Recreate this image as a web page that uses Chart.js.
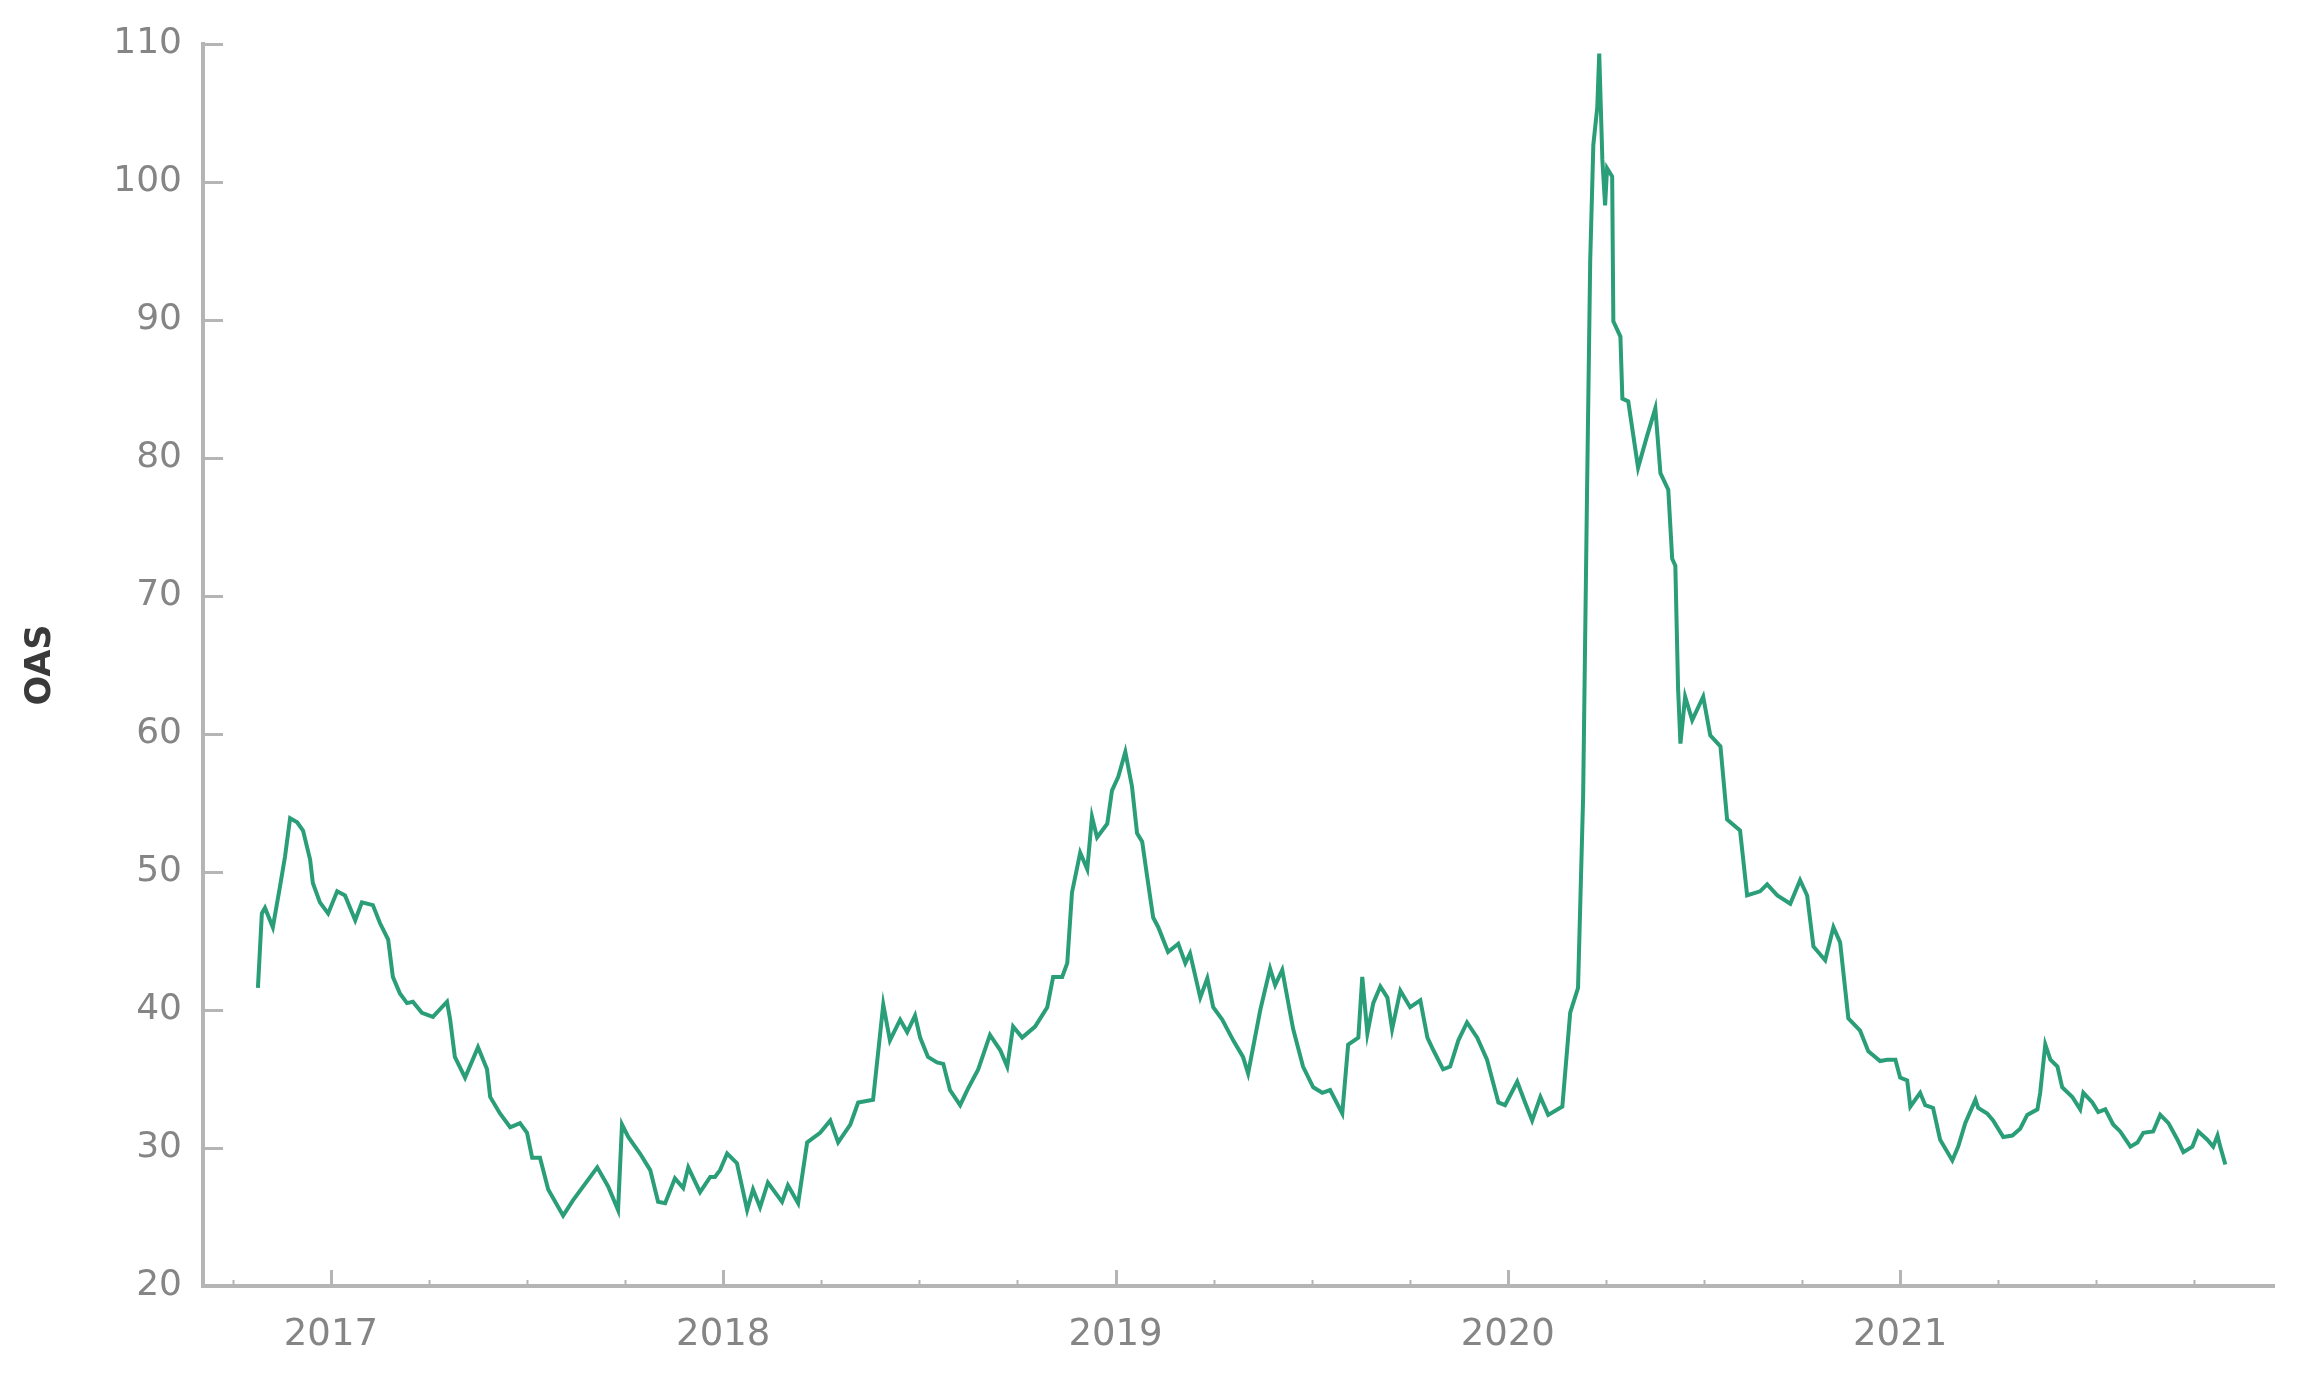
<!DOCTYPE html>
<html>
<head>
<meta charset="utf-8">
<script src="https://cdn.jsdelivr.net/npm/chart.js@4"></script>
<style>
  html, body { margin: 0; padding: 0; background: #fff; }
  #wrap { width: 2299px; height: 1384px; position: relative; }
</style>
</head>
<body>
<div id="wrap"><canvas id="oasChart"></canvas></div>
<script>
// ===== Date (ani zecimali) =====
const dates = [
  2016.814, 2016.824, 2016.832, 2016.852, 2016.870, 2016.883, 2016.896, 2016.914, 2016.929, 2016.947,
  2016.954, 2016.972, 2016.993, 2017.016, 2017.036, 2017.062, 2017.079, 2017.107, 2017.125, 2017.146,
  2017.158, 2017.176, 2017.194, 2017.209, 2017.232, 2017.260, 2017.296, 2017.304, 2017.316, 2017.342,
  2017.375, 2017.398, 2017.406, 2017.431, 2017.457, 2017.482, 2017.500, 2017.513, 2017.533, 2017.554,
  2017.592, 2017.617, 2017.679, 2017.707, 2017.732, 2017.742, 2017.758, 2017.788, 2017.814, 2017.834,
  2017.852, 2017.877, 2017.898, 2017.911, 2017.941, 2017.967, 2017.979, 2017.992, 2018.010, 2018.035,
  2018.061, 2018.076, 2018.094, 2018.114, 2018.150, 2018.165, 2018.191, 2018.214, 2018.247, 2018.273,
  2018.293, 2018.324, 2018.344, 2018.382, 2018.408, 2018.425, 2018.451, 2018.469, 2018.489, 2018.502,
  2018.522, 2018.545, 2018.561, 2018.578, 2018.604, 2018.624, 2018.650, 2018.680, 2018.706, 2018.724,
  2018.739, 2018.762, 2018.795, 2018.826, 2018.841, 2018.864, 2018.877, 2018.889, 2018.910, 2018.928,
  2018.940, 2018.953, 2018.979, 2018.991, 2019.007, 2019.025, 2019.042, 2019.055, 2019.068, 2019.081,
  2019.096, 2019.109, 2019.134, 2019.160, 2019.178, 2019.190, 2019.216, 2019.234, 2019.249, 2019.272,
  2019.300, 2019.325, 2019.338, 2019.369, 2019.394, 2019.407, 2019.425, 2019.445, 2019.453, 2019.478,
  2019.504, 2019.527, 2019.547, 2019.578, 2019.593, 2019.619, 2019.629, 2019.642, 2019.657, 2019.675,
  2019.693, 2019.705, 2019.726, 2019.751, 2019.777, 2019.795, 2019.810, 2019.835, 2019.853, 2019.874,
  2019.896, 2019.922, 2019.947, 2019.976, 2019.993, 2020.024, 2020.044, 2020.062, 2020.083, 2020.103,
  2020.139, 2020.159, 2020.179, 2020.192, 2020.202, 2020.210, 2020.218, 2020.228, 2020.233, 2020.241,
  2020.248, 2020.253, 2020.266, 2020.269, 2020.287, 2020.292, 2020.307, 2020.332, 2020.355, 2020.376,
  2020.389, 2020.409, 2020.419, 2020.427, 2020.434, 2020.440, 2020.452, 2020.470, 2020.498, 2020.516,
  2020.542, 2020.559, 2020.592, 2020.610, 2020.643, 2020.661, 2020.687, 2020.720, 2020.745, 2020.763,
  2020.779, 2020.809, 2020.830, 2020.847, 2020.868, 2020.898, 2020.919, 2020.949, 2020.967, 2020.988,
  2021.000, 2021.018, 2021.026, 2021.051, 2021.064, 2021.084, 2021.102, 2021.133, 2021.148, 2021.166,
  2021.192, 2021.199, 2021.222, 2021.237, 2021.263, 2021.286, 2021.306, 2021.324, 2021.350, 2021.357,
  2021.370, 2021.383, 2021.401, 2021.413, 2021.439, 2021.459, 2021.467, 2021.490, 2021.505, 2021.523,
  2021.543, 2021.561, 2021.587, 2021.605, 2021.620, 2021.645, 2021.663, 2021.684, 2021.707, 2021.722,
  2021.745, 2021.760, 2021.783, 2021.798, 2021.809, 2021.816, 2021.829
];

const oas = [
  41.6, 47.0, 47.4, 46.0, 48.9, 51.1, 53.9, 53.6, 53.0, 50.9,
  49.2, 47.8, 47.0, 48.6, 48.3, 46.5, 47.8, 47.6, 46.3, 45.1,
  42.4, 41.2, 40.5, 40.6, 39.8, 39.5, 40.6, 39.3, 36.6, 35.1,
  37.3, 35.7, 33.7, 32.5, 31.5, 31.8, 31.1, 29.3, 29.3, 27.0,
  25.1, 26.2, 28.6, 27.2, 25.5, 31.7, 30.8, 29.6, 28.4, 26.1,
  26.0, 27.8, 27.1, 28.6, 26.8, 27.9, 27.9, 28.4, 29.6, 28.9,
  25.5, 27.0, 25.7, 27.5, 26.1, 27.3, 26.0, 30.4, 31.1, 32.0,
  30.4, 31.7, 33.3, 33.5, 40.4, 37.8, 39.3, 38.4, 39.6, 38.0,
  36.6, 36.2, 36.1, 34.2, 33.1, 34.3, 35.7, 38.2, 37.1, 35.9,
  38.8, 38.0, 38.8, 40.2, 42.4, 42.4, 43.4, 48.5, 51.4, 50.2,
  54.0, 52.5, 53.5, 55.9, 56.9, 58.7, 56.2, 52.8, 52.2, 49.6,
  46.7, 46.0, 44.2, 44.8, 43.4, 44.1, 40.9, 42.3, 40.2, 39.3,
  37.8, 36.6, 35.4, 40.0, 43.0, 41.8, 42.9, 39.8, 38.6, 35.9,
  34.4, 34.0, 34.2, 32.5, 37.5, 38.0, 42.4, 38.3, 40.5, 41.7,
  40.9, 38.6, 41.4, 40.2, 40.7, 38.0, 37.1, 35.7, 35.9, 37.8,
  39.1, 38.0, 36.4, 33.3, 33.1, 34.8, 33.3, 32.0, 33.7, 32.4,
  33.0, 39.8, 41.6, 55.5, 77.7, 94.3, 102.7, 105.4, 109.3, 101.6,
  98.3, 101.0, 100.4, 89.9, 88.8, 84.3, 84.1, 79.3, 81.6, 83.6,
  78.9, 77.7, 72.7, 72.2, 63.3, 59.3, 62.7, 61.0, 62.7, 59.9,
  59.1, 53.8, 53.0, 48.3, 48.6, 49.1, 48.3, 47.7, 49.4, 48.3,
  44.6, 43.6, 46.0, 44.9, 39.4, 38.5, 37.0, 36.3, 36.4, 36.4,
  35.1, 34.9, 33.0, 34.0, 33.1, 32.9, 30.6, 29.1, 30.1, 31.8,
  33.5, 32.9, 32.5, 32.0, 30.8, 30.9, 31.4, 32.4, 32.8, 34.0,
  37.5, 36.4, 35.9, 34.4, 33.7, 32.8, 34.0, 33.3, 32.6, 32.8,
  31.7, 31.2, 30.1, 30.4, 31.1, 31.2, 32.4, 31.8, 30.6, 29.7,
  30.1, 31.2, 30.6, 30.1, 30.9, 30.1, 28.8
];

// ===== Axe =====
const yearTicks = [2017, 2018, 2019, 2020, 2021];
const yTicks = [20, 30, 40, 50, 60, 70, 80, 90, 100, 110];

const lineColor = "#2a9e78";
const axisGrey = "#b5b5b5";
const labelGrey = "#858585";
const fontFamily = "'DejaVu Sans', Verdana, sans-serif";

// tick-uri mici spre interior (ani + trimestre, pe Y la fiecare 10)
const insideTicks = {
  id: "insideTicks",
  afterDraw(chart) {
    const { ctx, chartArea, scales: { x, y } } = chart;
    ctx.save();
    ctx.strokeStyle = axisGrey;
    ctx.lineWidth = 3;
    ctx.beginPath();
    yTicks.slice(1).forEach(v => {
      const py = Math.round(y.getPixelForValue(v)) + 0.5;
      ctx.moveTo(chartArea.left, py);
      ctx.lineTo(chartArea.left + 20, py);
    });
    yearTicks.forEach(v => {
      const px = Math.round(x.getPixelForValue(v)) + 0.5;
      ctx.moveTo(px, chartArea.bottom);
      ctx.lineTo(px, chartArea.bottom - 16);
    });
    ctx.stroke();

    ctx.lineWidth = 2;
    ctx.beginPath();
    for (let yr = 2016; yr <= 2021; yr++) {
      [0.25, 0.5, 0.75].forEach(q => {
        const v = yr + q;
        if (v < x.min || v > x.max) return;
        const px = Math.round(x.getPixelForValue(v)) + 0.5;
        ctx.moveTo(px, chartArea.bottom);
        ctx.lineTo(px, chartArea.bottom - 6);
      });
    }
    ctx.stroke();
    ctx.restore();
  }
};

const points = dates.map((d, i) => ({ x: d, y: oas[i] }));

new Chart(document.getElementById("oasChart"), {
  type: "line",
  data: {
    datasets: [{
      label: "OAS",
      data: points,
      borderColor: lineColor,
      borderWidth: 4,
      pointRadius: 0,
      tension: 0,
      fill: false
    }]
  },
  options: {
    responsive: true,
    maintainAspectRatio: false,
    animation: false,
    layout: { padding: { top: 44, right: 25, bottom: 0, left: 0 } },
    plugins: {
      legend: { display: false },
      tooltip: { enabled: false }
    },
    scales: {
      x: {
        type: "linear",
        min: 2016.674,
        max: 2021.953,
        grid: { display: false, drawTicks: false },
        border: { display: true, color: axisGrey, width: 4 },
        afterBuildTicks: s => { s.ticks = yearTicks.map(v => ({ value: v })); },
        afterFit: s => { s.height = 98; },
        ticks: {
          autoSkip: false,
          maxRotation: 0,
          padding: 27,
          color: labelGrey,
          font: { family: fontFamily, size: 37 },
          callback: v => String(v)
        }
      },
      y: {
        min: 20,
        max: 110,
        grid: { display: false, drawTicks: false },
        border: { display: true, color: axisGrey, width: 4 },
        afterBuildTicks: s => { s.ticks = yTicks.map(v => ({ value: v })); },
        afterFit: s => { s.width = 203; },
        ticks: {
          padding: 21,
          color: labelGrey,
          font: { family: fontFamily, size: 36 }
        },
        title: {
          display: true,
          text: "OAS",
          color: "#3a3a3a",
          padding: { top: 20, bottom: 0 },
          font: { family: fontFamily, size: 35, weight: "bold" }
        }
      }
    }
  },
  plugins: [insideTicks]
});
</script>
</body>
</html>
